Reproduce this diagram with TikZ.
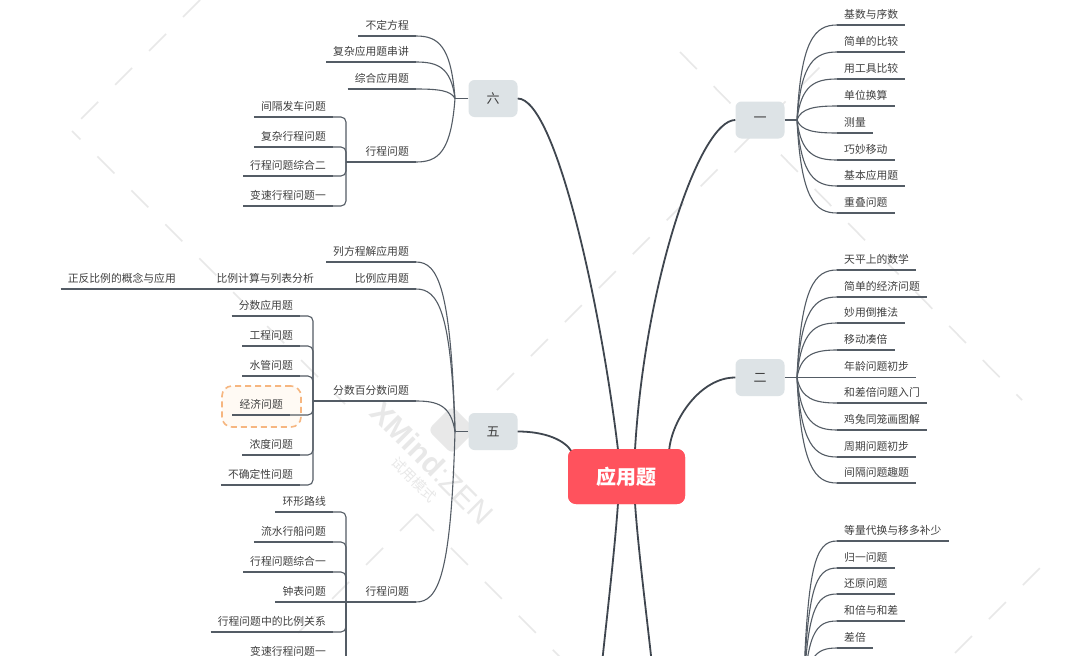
\documentclass[tikz,border=0pt]{standalone}
\usepackage{fontspec}
\setmainfont{Noto Sans CJK SC}
\newfontfamily\wmfont{Liberation Sans}
\usetikzlibrary{calc}
\definecolor{lineC}{HTML}{545C65}
\definecolor{mainC}{HTML}{3F464F}
\definecolor{topicF}{HTML}{DDE3E6}
\definecolor{rootF}{HTML}{FF525D}
\definecolor{txtC}{HTML}{404040}
\definecolor{selC}{HTML}{F6B680}
\definecolor{selF}{HTML}{FFFAF4}
\definecolor{wmC}{HTML}{E8E8E8}
\tikzset{
  leaf/.style={font=\fontsize{10.8}{12}\selectfont, text=txtC, inner xsep=7pt, inner ysep=5.5pt, text height=9.5pt, text depth=1.3pt},
  subline/.style={draw=lineC, line width=1.1pt},
  elbow/.style={draw=lineC, line width=1.1pt, rounded corners=5pt},
  mainline/.style={draw=mainC, line width=1.8pt},
  topic/.style={fill=topicF, rounded corners=6pt, minimum width=49pt, minimum height=37pt, inner sep=0pt, font=\fontsize{13}{15}\selectfont, text=txtC},
  root/.style={fill=rootF, rounded corners=8pt, minimum width=117pt, minimum height=55pt, inner sep=0pt, font=\fontsize{20}{24}\selectfont\bfseries, text=white},
  selbox/.style={draw=selC, fill=selF, line width=1.6pt, dash pattern=on 6pt off 4pt, rounded corners=10pt, minimum width=79pt, minimum height=41pt, inner sep=0pt},
  wmdash/.style={draw=wmC, line width=1.6pt, dash pattern=on 24pt off 24pt},
  fanR/.style={to path={.. controls ($(\tikztostart)!0.85!(\tikztostart|-\tikztotarget)+(4,0)$) and ($(\tikztotarget)+(-22,0)$) .. (\tikztotarget)}},
  fanL/.style={to path={.. controls ($(\tikztostart)!0.85!(\tikztostart|-\tikztotarget)+(-4,0)$) and ($(\tikztotarget)+(22,0)$) .. (\tikztotarget)}},
}
\begin{document}
\begin{tikzpicture}[x=1pt,y=-1pt]
\useasboundingbox (0,0) rectangle (1080,656);
\clip (0,0) rectangle (1080,656);
\fill[white] (0,0) rectangle (1080,656);

% background watermark dashes
\draw[wmdash] (200,0) -- (72,128);
\draw[wmdash, dash phase=12pt] (72,131) -- (345,404);
\draw[wmdash] (417,514) -- (570,667);
\draw[wmdash] (417,514) -- (270,661);
\draw[wmdash] (497,390) -- (830,57);
\draw[wmdash] (680,52) -- (1022,400);
\draw[wmdash] (955,653) -- (1040,568);

% watermark
\node[fill=wmC, rounded corners=6pt, minimum size=34pt, rotate=45] (wmlogo) at (452,430) {};
\node[rotate=-45, text=wmC, font=\wmfont\fontsize{30}{30}\selectfont] (wm1) at (432,463) {\textbf{XMind}:ZEN};
\node[rotate=-45, text=wmC, font=\fontsize{14}{14}\selectfont] (wm2) at (414,480) {试用模式};

% root and topics
\node[root] (c) at (626.5,476.5) {应用题};
\node[topic] (t6) at (493,98.5) {六};
\node[topic] (t1) at (760,120) {一};
\node[topic] (t2) at (760,377.5) {二};
\node[topic] (t5) at (493,431.5) {五};

% main connectors
\draw[mainline] (t6.east) .. controls (555,98.5) and (600,300) .. ($(c.north)+(-8.5,1)$);
\draw[mainline] (t1.west) .. controls (700,120) and (645,280) .. ($(c.north)+(8.5,1)$);
\draw[mainline] (t2.west) .. controls (700,377.5) and (672,420) .. ($(c.north east)+(-16,1)$);
\draw[mainline] (t5.east) .. controls (545,431.5) and (565,440) .. ($(c.north west)+(4,3)$);
\coordinate (b3) at (597,712);
\coordinate (b4) at (657,712);
\draw[mainline] ($(c.south)+(-8.5,-1)$) .. controls (614,560) and (604,640) .. (b3);
\draw[mainline] ($(c.south)+(8.5,-1)$) .. controls (639,560) and (650,640) .. (b4);
\node[root] at (c) {应用题};

% group one
\coordinate (o1) at (797,120);
\draw[subline] (t1.east) -- (o1);
\foreach \i/\t/\y in {1/基数与序数/25, 2/简单的比较/52, 3/用工具比较/79, 4/单位换算/106, 5/测量/133, 6/巧妙移动/160, 7/基本应用题/186, 8/重叠问题/213} {
  \node[leaf, anchor=south west] (a\i) at (837,\y) {\t};
  \draw[subline] (a\i.south west) -- (a\i.south east);
  \draw[subline] (o1) to[fanR] (a\i.south west);
}

% group two
\coordinate (o2) at (797,377.5);
\draw[subline] (t2.east) -- (o2);
\foreach \i/\t/\y in {1/天平上的数学/270, 2/简单的经济问题/297, 3/妙用倒推法/323, 4/移动凑倍/350, 5/年龄问题初步/377.5, 6/和差倍问题入门/403, 7/鸡兔同笼画图解/430, 8/周期问题初步/457, 9/间隔问题趣题/483} {
  \node[leaf, anchor=south west] (b\i) at (837,\y) {\t};
  \draw[subline] (b\i.south west) -- (b\i.south east);
  \draw[subline] (o2) to[fanR] (b\i.south west);
}

% group below (topic off the page)
\coordinate (o3) at (803,705);
\foreach \i/\t/\y in {1/等量代换与移多补少/541, 2/归一问题/568, 3/还原问题/594, 4/和倍与和差/621, 5/差倍/648} {
  \node[leaf, anchor=south west] (d\i) at (837,\y) {\t};
  \draw[subline] (d\i.south west) -- (d\i.south east);
  \draw[subline] (o3) to[fanR] (d\i.south west);
}
\coordinate (x3) at (837,675);
\draw[subline] (o3) to[fanR] (x3);

% group six
\coordinate (o6) at (455,98.5);
\draw[subline] (t6.west) -- (o6);
\foreach \i/\t/\y in {1/不定方程/36, 2/复杂应用题串讲/62, 3/综合应用题/89, 4/行程问题/162} {
  \node[leaf, anchor=south east] (f\i) at (416,\y) {\t};
  \draw[subline] (f\i.south west) -- (f\i.south east);
  \draw[subline] (o6) to[fanL] (f\i.south east);
}
\coordinate (s6) at (346,162);
\draw[subline] (s6) -- (f4.south west);
\foreach \i/\t/\y in {1/间隔发车问题/117, 2/复杂行程问题/147, 3/行程问题综合二/176, 4/变速行程问题一/206} {
  \node[leaf, anchor=south east] (g\i) at (333,\y) {\t};
  \draw[subline] (g\i.south west) -- (g\i.south east);
  \draw[elbow] (s6) |- (g\i.south east);
}

% group five
\coordinate (o5) at (455,431.5);
\draw[subline] (t5.west) -- (o5);
\foreach \i/\t/\y in {1/列方程解应用题/262, 2/比例应用题/289, 3/分数百分数问题/401, 4/行程问题/602} {
  \node[leaf, anchor=south east] (h\i) at (416,\y) {\t};
  \draw[subline] (h\i.south west) -- (h\i.south east);
  \draw[subline] (o5) to[fanL] (h\i.south east);
}
% ratio chain
\node[leaf, anchor=south east] (p1) at (321,289) {比例计算与列表分析};
\draw[subline] (p1.south west) -- (p1.south east);
\draw[subline] (h2.south west) -- (p1.south east);
\node[leaf, anchor=south east] (p2) at (183,289) {正反比例的概念与应用};
\draw[subline] (p2.south west) -- (p2.south east);
\draw[subline] (p1.south west) -- (p2.south east);

% fraction children
\node[selbox] (sel) at (261.5,406.5) {};
\coordinate (s5a) at (313,401);
\draw[subline] (s5a) -- (h3.south west);
\foreach \i/\t/\y/\xr in {1/分数应用题/316/300, 2/工程问题/346/300, 3/水管问题/376/300, 4/经济问题/415/290, 5/浓度问题/455/300, 6/不确定性问题/485/300} {
  \node[leaf, anchor=south east] (k\i) at (\xr,\y) {\t};
  \draw[subline] (k\i.south west) -- (k\i.south east);
  \draw[elbow] (s5a) |- (k\i.south east);
}

% travel children
\coordinate (s5b) at (346,602);
\coordinate (s5end) at (346,700);
\draw[subline] (s5b) -- (h4.south west);
\draw[subline] (s5b) -- (s5end);
\foreach \i/\t/\y in {1/环形路线/512, 2/流水行船问题/542, 3/行程问题综合一/572, 5/行程问题中的比例关系/632, 6/变速行程问题一/662} {
  \node[leaf, anchor=south east] (m\i) at (333,\y) {\t};
  \draw[subline] (m\i.south west) -- (m\i.south east);
  \draw[elbow] (s5b) |- (m\i.south east);
}
\node[leaf, anchor=south east] (m4) at (333,602) {钟表问题};
\draw[subline] (m4.south west) -- (m4.south east);
\draw[subline] (s5b) -- (m4.south east);
\end{tikzpicture}
\end{document}
